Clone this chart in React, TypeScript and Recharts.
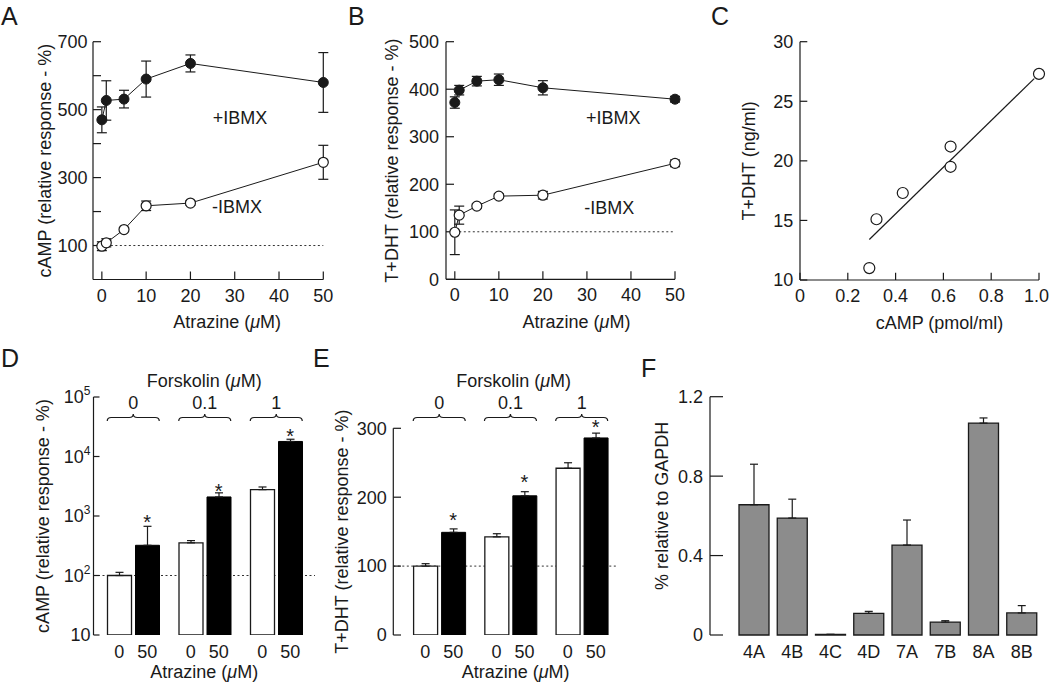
import React from 'react';
import {
  LineChart, Line, XAxis, YAxis, ErrorBar, ReferenceLine, ReferenceDot,
  ComposedChart, Scatter, BarChart, Bar,
} from 'recharts';

const W = 1050;
const H = 683;
const FONT = '"Liberation Sans", Arial, Helvetica, sans-serif';
const INK = '#1a1a1a';
const TICK = 18;

// ---------- Panel A / B : dose response ----------
const atrazineX = [0, 1, 5, 10, 20, 50];
const campPlus = [470, 527, 531, 590, 636, 580];
const campPlusErr = [38, 58, 26, 53, 25, 88];
const campMinus = [98, 108, 147, 217, 225, 345];
const campMinusErr = [13, 12, 5, 14, 6, 50];

const tdhtPlus = [372, 398, 417, 420, 403, 379];
const tdhtPlusErr = [12, 10, 10, 12, 15, 6];
const tdhtMinus = [99, 135, 154, 175, 177, 244];
const tdhtMinusErr = [47, 19, 5, 5, 8, 7];

const atrazineTicks = [0, 10, 20, 30, 40, 50];
const campTicksA = [100, 200, 300, 400, 500, 600, 700];
const tdhtTicksB = [0, 100, 200, 300, 400, 500];

const notesA = [
  { x: 31.2, y: 476, t: '+IBMX' },
  { x: 30.5, y: 212, t: '-IBMX' },
];
const notesB = [
  { x: 36, y: 340, t: '+IBMX' },
  { x: 35.1, y: 150, t: '-IBMX' },
];

// ---------- Panel C : correlation ----------
const corrCamp = [0.29, 0.32, 0.43, 0.63, 0.63, 1.0];
const corrTdht = [11.0, 15.1, 17.3, 21.2, 19.5, 27.3];
const fitCamp = [0.29, 0.98];
const fitTdht = [13.4, 26.9];
const campTicksC = [0, 0.2, 0.4, 0.6, 0.8, 1.0];
const tdhtTicksC = [10, 15, 20, 25, 30];

// ---------- Panel D / E : forskolin ----------
const forskolin = ['0', '0.1', '1'];
const atrazineDoses = ['0', '50'];
const campCtrl = [100, 354, 2775];
const campCtrlErr = [13, 32, 300];
const campAtr = [322, 2090, 17900];
const campAtrErr = [349, 360, 1600];
const campStars = [930, 3150, 26400];
const logTicks = [10, 100, 1000, 10000, 100000];

const tdhtCtrl = [100, 142.5, 242];
const tdhtCtrlErr = [3.5, 4.5, 8];
const tdhtAtr = [149, 202, 286];
const tdhtAtrErr = [5, 6, 7];
const tdhtStars = [174, 229, 309];
const tdhtTicksE = [0, 100, 200, 300];

// ---------- Panel F : expression ----------
const genes = ['4A', '4B', '4C', '4D', '7A', '7B', '8A', '8B'];
const geneExpr = [0.656, 0.589, 0.003, 0.109, 0.453, 0.065, 1.067, 0.111];
const geneErr = [0.204, 0.095, 0, 0.01, 0.126, 0.007, 0.026, 0.037];
const gapdhTicks = [0, 0.4, 0.8, 1.2];

// ---------- tables ----------
const tableA = atrazineX.map((x, i) => ({
  x, plus: campPlus[i], plusErr: campPlusErr[i], minus: campMinus[i], minusErr: campMinusErr[i],
}));
const tableB = atrazineX.map((x, i) => ({
  x, plus: tdhtPlus[i], plusErr: tdhtPlusErr[i], minus: tdhtMinus[i], minusErr: tdhtMinusErr[i],
}));
const tableC = corrCamp.map((x, i) => ({ x, y: corrTdht[i] }));
const tableD = forskolin.map((g, i) => ({
  g, ctrl: campCtrl[i], ctrlErr: [0, campCtrlErr[i]], atr: campAtr[i], atrErr: [0, campAtrErr[i]],
}));
const tableE = forskolin.map((g, i) => ({
  g, ctrl: tdhtCtrl[i], ctrlErr: [0, tdhtCtrlErr[i]], atr: tdhtAtr[i], atrErr: [0, tdhtAtrErr[i]],
}));
const tableF = genes.map((c, i) => ({ c, v: geneExpr[i], err: [0, geneErr[i]] }));

// ---------- helpers ----------
const BAR = 24;
const BAR_GAP = 4;
const HALF_STEP = (BAR + BAR_GAP) / 2;

const mu = (pre: string, post: string) => (
  <>
    {pre}
    <tspan fontStyle="italic">μ</tspan>
    {post}
  </>
);

function XTitle(props: any) {
  const { viewBox, txt, dx = 0, by = 0, top = false, size = 18 } = props;
  if (!viewBox) return null;
  const x = viewBox.x + viewBox.width / 2 + dx;
  const y = top ? viewBox.y + viewBox.height + by : viewBox.y + by;
  return (
    <text x={x} y={y} textAnchor="middle" fontSize={size} fontFamily={FONT} fill={INK}>
      {txt}
    </text>
  );
}

function YTitle(props: any) {
  const { viewBox, txt, dist, dy = 0, size = 18 } = props;
  if (!viewBox) return null;
  const x = viewBox.x + viewBox.width - dist;
  const y = viewBox.y + viewBox.height / 2 + dy;
  return (
    <text
      x={x}
      y={y}
      transform={`rotate(-90 ${x} ${y})`}
      textAnchor="middle"
      dominantBaseline="central"
      fontSize={size}
      fontFamily={FONT}
      fill={INK}
    >
      {txt}
    </text>
  );
}

const noteShape = (t: string) => (p: any) => (
  <text x={p.cx} y={p.cy} textAnchor="middle" dominantBaseline="central" fontSize={18} fontFamily={FONT} fill={INK}>
    {t}
  </text>
);

const starShape = (p: any) => (
  <text x={p.cx + HALF_STEP} y={p.cy + 11.5} textAnchor="middle" fontSize={20} fontFamily={FONT} fill={INK}>
    *
  </text>
);

function PairTick(props: any) {
  const { x, y } = props;
  return (
    <g>
      {atrazineDoses.map((d, i) => (
        <text
          key={d}
          x={x + (i === 0 ? -HALF_STEP : HALF_STEP)}
          y={y + 23.3}
          textAnchor="middle"
          fontSize={TICK}
          fontFamily={FONT}
          fill={INK}
        >
          {d}
        </text>
      ))}
    </g>
  );
}

function BraceTick(props: any) {
  const { x, y, payload, tip = 0, half = 26 } = props;
  const t = y + tip;
  const b = t + 3.5;
  const d = `M${x - half},${t + 7} Q${x - half},${b} ${x - half + 4},${b} L${x - 4},${b} Q${x},${b} ${x},${t} Q${x},${b} ${x + 4},${b} L${x + half - 4},${b} Q${x + half},${b} ${x + half},${t + 7}`;
  return (
    <g>
      <path d={d} fill="none" stroke={INK} strokeWidth={1.2} />
      <text x={x} y={t - 4.7} textAnchor="middle" fontSize={TICK} fontFamily={FONT} fill={INK}>
        {payload.value}
      </text>
    </g>
  );
}

function PowTick(props: any) {
  const { x, y, payload } = props;
  const e = Math.round(Math.log10(payload.value));
  return (
    <text x={x} y={y} dy="0.36em" textAnchor="end" fontSize={TICK} fontFamily={FONT} fill={INK}>
      10
      {e > 1 ? (
        <tspan dy={-8} fontSize={12}>
          {e}
        </tspan>
      ) : null}
    </text>
  );
}

// x tick for panel C: keeps the last label inside the page edge
function CampTick(props: any) {
  const { x, y, payload } = props;
  const v = payload.value as number;
  const isLast = v === campTicksC[campTicksC.length - 1];
  return (
    <text
      x={x + (isLast ? -2.5 : 0)}
      y={y}
      dy="0.71em"
      textAnchor="middle"
      fontSize={TICK}
      fontFamily={FONT}
      fill={INK}
    >
      {v === 0 ? '0' : v.toFixed(1)}
    </text>
  );
}

const axisLine = { stroke: INK, strokeWidth: 1.2 };
const tickLine = { stroke: INK, strokeWidth: 1.2 };
const tickStyle = { fill: INK, fontSize: TICK, fontFamily: FONT };

const layer: React.CSSProperties = { position: 'absolute', left: 0, top: 0 };

const margin = (L: number, T: number, R: number, B: number, yW: number, xH: number, topH = 0) => ({
  left: L - yW,
  top: T - topH,
  right: W - R,
  bottom: H - B - xH,
});

const dotFilled = { r: 5, fill: INK, stroke: INK, strokeWidth: 1 };
const dotOpen = { r: 5, fill: '#fff', stroke: INK, strokeWidth: 1.2 };

function DoseChart(props: any) {
  const { data, m, yDomain, yTicks, yFmt, yTitle, yDist, notes, xDx, yTickMargin } = props;
  return (
    <LineChart width={W} height={H} data={data} margin={m}>
      <ReferenceLine
        segment={[{ x: 0, y: 100 }, { x: 50, y: 100 }]}
        stroke="#333"
        strokeWidth={1}
        strokeDasharray="2 2.5"
      />
      <XAxis
        type="number"
        dataKey="x"
        domain={[-2, 50]}
        ticks={atrazineTicks}
        interval={0}
        height={50}
        axisLine={axisLine}
        tickLine={tickLine}
        tick={tickStyle}
        tickSize={-8}
        tickMargin={17.4}
        label={<XTitle txt={mu('Atrazine (', 'M)')} dx={xDx} by={48.8} />}
      />
      <YAxis
        type="number"
        domain={yDomain}
        ticks={yTicks}
        interval={0}
        width={60}
        axisLine={axisLine}
        tickLine={tickLine}
        tick={tickStyle}
        tickSize={-8}
        tickMargin={yTickMargin}
        tickFormatter={yFmt}
        label={<YTitle txt={yTitle} dist={yDist} />}
      />
      <Line dataKey="plus" stroke={INK} strokeWidth={1} dot={dotFilled} activeDot={false} isAnimationActive={false}>
        <ErrorBar dataKey="plusErr" width={5} stroke={INK} strokeWidth={1.2} direction="y" />
      </Line>
      <Line dataKey="minus" stroke={INK} strokeWidth={1} dot={dotOpen} activeDot={false} isAnimationActive={false}>
        <ErrorBar dataKey="minusErr" width={5} stroke={INK} strokeWidth={1.2} direction="y" />
      </Line>
      {notes.map((n: any) => (
        <ReferenceDot key={n.t} x={n.x} y={n.y} r={0} shape={noteShape(n.t)} ifOverflow="visible" />
      ))}
    </LineChart>
  );
}

function ForskolinChart(props: any) {
  const { data, m, pad, tip, logScale, yDomain, yTicks, yTitle, stars, xDx, topDx, topBy, yTickMargin } = props;
  return (
    <BarChart width={W} height={H} data={data} margin={m} barSize={BAR} barGap={BAR_GAP}>
      <ReferenceLine y={100} stroke="#333" strokeWidth={1} strokeDasharray="2 2.5" zIndex={0} />
      <XAxis
        dataKey="g"
        padding={pad}
        height={48}
        interval={0}
        axisLine={false}
        tickLine={false}
        tickSize={0}
        tickMargin={0}
        tick={<PairTick />}
        label={<XTitle txt={mu('Atrazine (', 'M)')} dx={xDx} by={43} />}
      />
      <XAxis
        xAxisId="top"
        orientation="top"
        dataKey="g"
        padding={pad}
        height={60}
        interval={0}
        axisLine={false}
        tickLine={false}
        tickSize={0}
        tickMargin={0}
        tick={<BraceTick tip={tip} />}
        label={<XTitle txt={mu('Forskolin (', 'M)')} dx={topDx} by={topBy} top />}
      />
      <YAxis
        type="number"
        scale={logScale ? 'log' : 'auto'}
        domain={yDomain}
        ticks={yTicks}
        interval={0}
        width={60}
        allowDataOverflow
        axisLine={axisLine}
        tickLine={tickLine}
        tick={logScale ? <PowTick /> : tickStyle}
        tickSize={logScale ? -6 : -7.7}
        tickMargin={yTickMargin}
        label={<YTitle txt={yTitle} dist={51} />}
      />
      <Bar dataKey="ctrl" fill="#fff" stroke={INK} strokeWidth={1.3} isAnimationActive={false}>
        <ErrorBar dataKey="ctrlErr" width={4} stroke={INK} strokeWidth={1.2} direction="y" />
      </Bar>
      <Bar dataKey="atr" fill="#000" stroke="#000" strokeWidth={1} isAnimationActive={false}>
        <ErrorBar dataKey="atrErr" width={4} stroke={INK} strokeWidth={1.2} direction="y" />
      </Bar>
      {forskolin.map((g, i) => (
        <ReferenceDot key={g} x={g} y={stars[i]} r={0} shape={starShape} ifOverflow="visible" />
      ))}
    </BarChart>
  );
}

const titles = [
  { t: 'A', x: 1, y: 25 },
  { t: 'B', x: 348, y: 25 },
  { t: 'C', x: 711, y: 25 },
  { t: 'D', x: 1, y: 367 },
  { t: 'E', x: 313, y: 367 },
  { t: 'F', x: 641, y: 377 },
];

export default function App() {
  return (
    <div style={{ position: 'absolute', left: 0, top: 0, width: W, height: H, background: '#fff', fontFamily: FONT }}>
      {/* A */}
      <div style={layer}>
        <DoseChart
          data={tableA}
          m={margin(93, 41.7, 323.3, 279.5, 60, 50)}
          yDomain={[0, 700]}
          yTicks={campTicksA}
          yFmt={(v: number) => ((v / 100) % 2 === 1 ? String(v) : '')}
          yTitle="cAMP (relative response - %)"
          yDist={48}
          notes={notesA}
          xDx={19}
          yTickMargin={13.5}
        />
      </div>
      {/* B */}
      <div style={layer}>
        <DoseChart
          data={tableB}
          m={margin(446, 41.7, 675, 279.3, 60, 50)}
          yDomain={[0, 500]}
          yTicks={tdhtTicksB}
          yFmt={(v: number) => String(v)}
          yTitle="T+DHT (relative response - %)"
          yDist={54}
          notes={notesB}
          xDx={16}
          yTickMargin={15}
        />
      </div>
      {/* C */}
      <div style={layer}>
        <ComposedChart width={W} height={H} data={tableC} margin={margin(800, 41.7, 1039, 280, 60, 50)}>
          <XAxis
            type="number"
            dataKey="x"
            domain={[0, 1]}
            ticks={campTicksC}
            interval={0}
            height={50}
            axisLine={axisLine}
            tickLine={tickLine}
            tick={<CampTick />}
            tickSize={-7.3}
            tickMargin={16.7}
            label={<XTitle txt="cAMP (pmol/ml)" dx={20} by={48.8} />}
          />
          <YAxis
            type="number"
            dataKey="y"
            domain={[10, 30]}
            ticks={tdhtTicksC}
            interval={0}
            width={60}
            axisLine={axisLine}
            tickLine={tickLine}
            tick={tickStyle}
            tickSize={-7.3}
            tickMargin={14}
            label={<YTitle txt="T+DHT (ng/ml)" dist={51} />}
          />
          <ReferenceLine
            segment={[{ x: fitCamp[0], y: fitTdht[0] }, { x: fitCamp[1], y: fitTdht[1] }]}
            stroke={INK}
            strokeWidth={1.2}
          />
          <Scatter
            dataKey="y"
            isAnimationActive={false}
            shape={(p: any) => <circle cx={p.cx} cy={p.cy} r={5.5} fill="#fff" stroke={INK} strokeWidth={1.2} />}
          />
        </ComposedChart>
      </div>
      {/* D */}
      <div style={layer}>
        <ForskolinChart
          data={tableD}
          m={margin(93.5, 397, 315, 635, 60, 48, 60)}
          pad={{ left: 4, right: 3 }}
          tip={17}
          logScale
          yDomain={[10, 100000]}
          yTicks={logTicks}
          yTitle="cAMP (relative response - %)"
          stars={campStars}
          xDx={0}
          topDx={0}
          topBy={-10.5}
          yTickMargin={9}
        />
      </div>
      {/* E */}
      <div style={layer}>
        <ForskolinChart
          data={tableE}
          m={margin(393.3, 428.3, 618, 635, 60, 48, 60)}
          pad={{ left: 10.3, right: 0.7 }}
          tip={-14.3}
          logScale={false}
          yDomain={[0, 300]}
          yTicks={tdhtTicksE}
          yTitle="T+DHT (relative response - %)"
          stars={tdhtStars}
          xDx={10}
          topDx={8}
          topBy={-41.8}
          yTickMargin={14.3}
        />
      </div>
      {/* F */}
      <div style={layer}>
        <BarChart width={W} height={H} data={tableF} margin={margin(710, 396.7, 1041, 635, 60, 48)} barSize={30}>
          <XAxis
            dataKey="c"
            padding={{ left: 25, right: 0 }}
            height={48}
            interval={0}
            axisLine={false}
            tickLine={false}
            tickSize={0}
            tickMargin={10.5}
            tick={tickStyle}
          />
          <YAxis
            type="number"
            domain={[0, 1.2]}
            ticks={gapdhTicks}
            interval={0}
            width={60}
            axisLine={axisLine}
            tickLine={tickLine}
            tick={tickStyle}
            tickSize={-13}
            tickMargin={20}
            tickFormatter={(v: number) => (v === 0 ? '0' : v.toFixed(1))}
            label={<YTitle txt="% relative to GAPDH" dist={48} dy={-10} />}
          />
          <Bar dataKey="v" fill="#8c8c8c" stroke={INK} strokeWidth={1.3} isAnimationActive={false}>
            <ErrorBar dataKey="err" width={4} stroke={INK} strokeWidth={1.2} direction="y" />
          </Bar>
        </BarChart>
      </div>
      {/* panel letters */}
      <svg width={W} height={H} style={{ ...layer, pointerEvents: 'none' }}>
        {titles.map((p) => (
          <text key={p.t} x={p.x} y={p.y} fontSize={25} fontFamily={FONT} fill={INK}>
            {p.t}
          </text>
        ))}
      </svg>
    </div>
  );
}
